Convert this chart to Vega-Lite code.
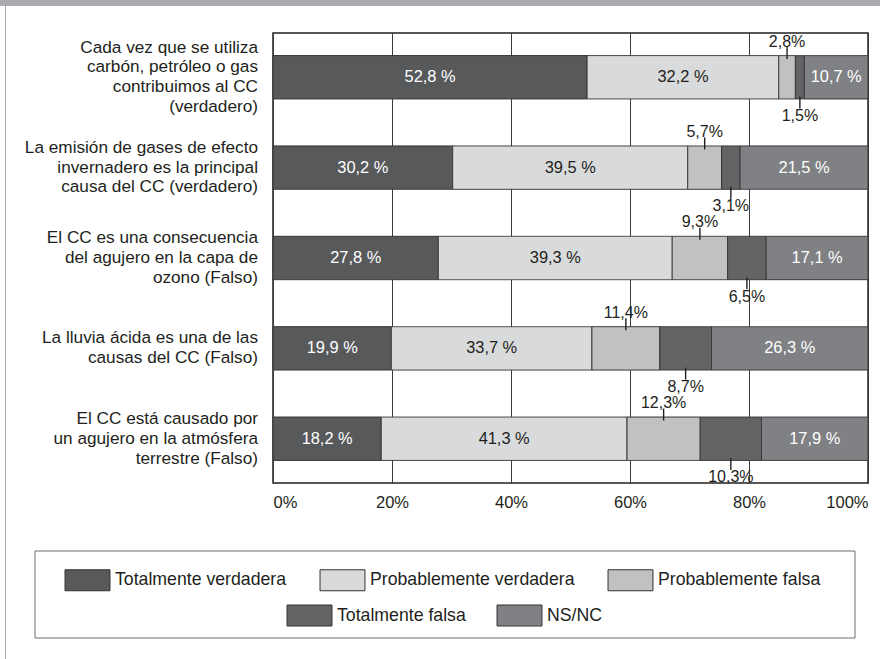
{
  "$schema": "https://vega.github.io/schema/vega-lite/v6.json",
  "width": 595,
  "height": 450,
  "autosize": {"type": "none"},
  "padding": {"left": 273, "top": 33, "right": 12, "bottom": 176},
  "background": "#ffffff",
  "config": {
    "view": {"stroke": "#231f20", "strokeWidth": 1.5},
    "font": "Liberation Sans"
  },
  "data": {
    "values": [
      {"q": "Cada vez que se  utiliza|carbón, petróleo o gas|contribuimos al CC|(verdadero)", "cat": "Totalmente verdadera", "v": 52.8, "k": 1},
      {"q": "Cada vez que se  utiliza|carbón, petróleo o gas|contribuimos al CC|(verdadero)", "cat": "Probablemente verdadera", "v": 32.2, "k": 2},
      {"q": "Cada vez que se  utiliza|carbón, petróleo o gas|contribuimos al CC|(verdadero)", "cat": "Probablemente falsa", "v": 2.8, "k": 3},
      {"q": "Cada vez que se  utiliza|carbón, petróleo o gas|contribuimos al CC|(verdadero)", "cat": "Totalmente falsa", "v": 1.5, "k": 4},
      {"q": "Cada vez que se  utiliza|carbón, petróleo o gas|contribuimos al CC|(verdadero)", "cat": "NS/NC", "v": 10.7, "k": 5},
      {"q": "La emisión de gases de efecto|invernadero es la principal|causa del CC (verdadero)", "cat": "Totalmente verdadera", "v": 30.2, "k": 1},
      {"q": "La emisión de gases de efecto|invernadero es la principal|causa del CC (verdadero)", "cat": "Probablemente verdadera", "v": 39.5, "k": 2},
      {"q": "La emisión de gases de efecto|invernadero es la principal|causa del CC (verdadero)", "cat": "Probablemente falsa", "v": 5.7, "k": 3},
      {"q": "La emisión de gases de efecto|invernadero es la principal|causa del CC (verdadero)", "cat": "Totalmente falsa", "v": 3.1, "k": 4},
      {"q": "La emisión de gases de efecto|invernadero es la principal|causa del CC (verdadero)", "cat": "NS/NC", "v": 21.5, "k": 5},
      {"q": "El CC es una consecuencia|del agujero en la capa de|ozono (Falso)", "cat": "Totalmente verdadera", "v": 27.8, "k": 1},
      {"q": "El CC es una consecuencia|del agujero en la capa de|ozono (Falso)", "cat": "Probablemente verdadera", "v": 39.3, "k": 2},
      {"q": "El CC es una consecuencia|del agujero en la capa de|ozono (Falso)", "cat": "Probablemente falsa", "v": 9.3, "k": 3},
      {"q": "El CC es una consecuencia|del agujero en la capa de|ozono (Falso)", "cat": "Totalmente falsa", "v": 6.5, "k": 4},
      {"q": "El CC es una consecuencia|del agujero en la capa de|ozono (Falso)", "cat": "NS/NC", "v": 17.1, "k": 5},
      {"q": "La lluvia ácida es una de las|causas del CC (Falso)", "cat": "Totalmente verdadera", "v": 19.9, "k": 1},
      {"q": "La lluvia ácida es una de las|causas del CC (Falso)", "cat": "Probablemente verdadera", "v": 33.7, "k": 2},
      {"q": "La lluvia ácida es una de las|causas del CC (Falso)", "cat": "Probablemente falsa", "v": 11.4, "k": 3},
      {"q": "La lluvia ácida es una de las|causas del CC (Falso)", "cat": "Totalmente falsa", "v": 8.7, "k": 4},
      {"q": "La lluvia ácida es una de las|causas del CC (Falso)", "cat": "NS/NC", "v": 26.3, "k": 5},
      {"q": "El CC está causado por|un agujero en la atmósfera|terrestre (Falso)", "cat": "Totalmente verdadera", "v": 18.2, "k": 1},
      {"q": "El CC está causado por|un agujero en la atmósfera|terrestre (Falso)", "cat": "Probablemente verdadera", "v": 41.3, "k": 2},
      {"q": "El CC está causado por|un agujero en la atmósfera|terrestre (Falso)", "cat": "Probablemente falsa", "v": 12.3, "k": 3},
      {"q": "El CC está causado por|un agujero en la atmósfera|terrestre (Falso)", "cat": "Totalmente falsa", "v": 10.3, "k": 4},
      {"q": "El CC está causado por|un agujero en la atmósfera|terrestre (Falso)", "cat": "NS/NC", "v": 17.9, "k": 5}
    ]
  },
  "encoding": {
    "y": {
      "field": "q",
      "type": "nominal",
      "sort": [
        "Cada vez que se  utiliza|carbón, petróleo o gas|contribuimos al CC|(verdadero)",
        "La emisión de gases de efecto|invernadero es la principal|causa del CC (verdadero)",
        "El CC es una consecuencia|del agujero en la capa de|ozono (Falso)",
        "La lluvia ácida es una de las|causas del CC (Falso)",
        "El CC está causado por|un agujero en la atmósfera|terrestre (Falso)"
      ],
      "scale": {"paddingInner": 0.52, "paddingOuter": 0.25},
      "axis": null
    }
  },
  "layer": [
    {
      "mark": {"type": "bar", "strokeWidth": 1},
      "encoding": {
        "x": {
          "field": "v",
          "type": "quantitative",
          "stack": "zero",
          "scale": {"domain": [0, 100], "nice": false},
          "axis": {
            "title": null,
            "values": [0, 20, 40, 60, 80, 100],
            "labelExpr": "datum.value + '%'",
            "grid": true,
            "gridColor": "#3c3c3c",
            "gridWidth": 1,
            "domain": false,
            "ticks": false,
            "labelPadding": 11,
            "labelFont": "Liberation Sans",
            "labelFontSize": 16.5,
            "labelColor": "#231f20",
            "labelFlush": true
          }
        },
        "fill": {
          "field": "cat",
          "type": "nominal",
          "scale": {
            "domain": ["Totalmente verdadera", "Probablemente verdadera", "Probablemente falsa", "Totalmente falsa", "NS/NC"],
            "range": ["#58595b", "#d9dadb", "#c0c1c3", "#636466", "#808184"]
          },
          "legend": {
            "orient": "none",
            "legendX": -208,
            "legendY": 536,
            "direction": "horizontal",
            "values": ["Totalmente verdadera", "Probablemente verdadera", "Probablemente falsa"],
            "title": null,
            "padding": 0,
            "symbolType": "M-2.14,-1H2.14V1H-2.14Z",
            "symbolSize": 441,
            "symbolOffset": 11.5,
            "labelOffset": 16.5,
            "columnPadding": 31,
            "symbolStrokeColor": "#333333",
            "symbolStrokeWidth": 1,
            "labelFont": "Liberation Sans",
            "labelFontSize": 17.7,
            "labelColor": "#231f20",
            "labelLimit": 400
          }
        },
        "stroke": {
          "field": "cat",
          "type": "nominal",
          "scale": {
            "domain": ["Totalmente falsa", "NS/NC", "Totalmente verdadera", "Probablemente verdadera", "Probablemente falsa"],
            "range": ["#333333", "#333333", "#333333", "#333333", "#333333"]
          },
          "legend": {
            "orient": "none",
            "legendX": 14,
            "legendY": 571.5,
            "direction": "horizontal",
            "values": ["Totalmente falsa"],
            "title": null,
            "padding": 0,
            "symbolType": "M-2.14,-1H2.14V1H-2.14Z",
            "symbolSize": 441,
            "symbolOffset": 11.5,
            "labelOffset": 16.5,
            "symbolStrokeWidth": 1,
            "symbolOpacity": 1,
            "symbolFillColor": "#636466",
            "labelFont": "Liberation Sans",
            "labelFontSize": 17.7,
            "labelColor": "#231f20",
            "labelLimit": 400
          }
        },
        "strokeWidth": {
          "field": "cat",
          "type": "nominal",
          "scale": {
            "type": "ordinal",
            "domain": ["NS/NC", "Totalmente falsa", "Totalmente verdadera", "Probablemente verdadera", "Probablemente falsa"],
            "range": [1, 1, 1, 1, 1]
          },
          "legend": {
            "orient": "none",
            "legendX": 224,
            "legendY": 571.5,
            "direction": "horizontal",
            "values": ["NS/NC"],
            "title": null,
            "padding": 0,
            "symbolType": "M-2.14,-1H2.14V1H-2.14Z",
            "symbolSize": 441,
            "symbolOffset": 11.5,
            "labelOffset": 16.5,
            "symbolOpacity": 1,
            "symbolFillColor": "#808184",
            "symbolStrokeColor": "#333333",
            "labelFont": "Liberation Sans",
            "labelFontSize": 17.7,
            "labelColor": "#231f20",
            "labelLimit": 400
          }
        },
        "opacity": {
          "datum": "marco",
          "type": "nominal",
          "scale": {"type": "ordinal", "range": [1]},
          "legend": {
            "orient": "none",
            "legendX": -238,
            "legendY": 151,
            "title": null,
            "padding": 0,
            "symbolType": "M-1,-0.1061H1V0.1061H-1Z",
            "symbolSize": 672400,
            "symbolOffset": -0.5,
            "symbolStrokeColor": "#6d6e71",
            "symbolStrokeWidth": 1,
            "symbolFillColor": "transparent",
            "labelExpr": "''"
          }
        },
        "strokeDash": {
          "datum": "decoración",
          "type": "nominal",
          "scale": {"range": [[1, 0]]},
          "legend": {
            "orient": "none",
            "legendX": -273,
            "legendY": -33,
            "title": null,
            "padding": 0,
            "symbolType": "M-1,-1H1V-0.98636H-1Z M-0.98864,-0.98636H-0.98636V1H-0.98864Z",
            "symbolSize": 774400,
            "symbolOffset": 0,
            "symbolStrokeWidth": 0,
            "symbolOpacity": 1,
            "symbolFillColor": "#a9abae",
            "symbolStrokeColor": "#a9abae",
            "labelExpr": "''"
          }
        },
        "order": {"field": "k", "type": "quantitative"}
      }
    },
    {
      "mark": {
        "type": "text",
        "align": "right",
        "baseline": "middle",
        "dx": -15,
        "lineBreak": "|",
        "lineHeight": 19.8,
        "font": "Liberation Sans",
        "fontSize": 17.2,
        "color": "#231f20",
        "dy": {"expr": "-(length(split(datum.q, '|')) - 1) * 9.9"},
        "opacity": {"expr": "datum.k === 1 ? 1 : 0"}
      },
      "encoding": {
        "x": {"datum": 0},
        "text": {"field": "q", "type": "nominal"}
      }
    },
    {
      "mark": {
        "type": "text",
        "font": "Liberation Sans",
        "fontSize": 16.4,
        "baseline": "middle",
        "align": "center",
        "text": {"expr": "(datum.cat === 'Probablemente falsa' || datum.cat === 'Totalmente falsa') ? '' : replace(format(datum.v, '.1f'), '.', ',') + ' %'"},
        "fill": {"expr": "datum.cat === 'Probablemente verdadera' ? '#231f20' : '#ffffff'"}
      },
      "encoding": {
        "x": {"field": "v", "type": "quantitative", "stack": "zero", "bandPosition": 0.5},
        "detail": {"field": "cat", "type": "nominal"},
        "order": {"field": "k", "type": "quantitative"}
      }
    },
    {
      "mark": {"type": "tick", "orient": "vertical", "size": 12, "thickness": 1.4, "color": "#231f20", "yOffset": -24.2, "opacity": {"expr": "datum.cat === 'Probablemente falsa' ? 1 : 0"}},
      "encoding": {
        "x": {"field": "v", "type": "quantitative", "stack": "zero", "bandPosition": 0.5},
        "detail": {"field": "cat", "type": "nominal"},
        "order": {"field": "k", "type": "quantitative"}
      }
    },
    {
      "mark": {"type": "tick", "orient": "vertical", "size": 12, "thickness": 1.4, "color": "#231f20", "yOffset": 25.2, "opacity": {"expr": "datum.cat === 'Totalmente falsa' ? 1 : 0"}},
      "encoding": {
        "x": {"field": "v", "type": "quantitative", "stack": "zero", "bandPosition": 0.5},
        "detail": {"field": "cat", "type": "nominal"},
        "order": {"field": "k", "type": "quantitative"}
      }
    },
    {
      "mark": {
        "type": "text",
        "font": "Liberation Sans",
        "fontSize": 16,
        "baseline": "middle",
        "align": "center",
        "color": "#231f20",
        "yOffset": -35.7,
        "text": {"expr": "datum.cat === 'Probablemente falsa' ? replace(format(datum.v, '.1f'), '.', ',') + '%' : ''"}
      },
      "encoding": {
        "x": {"field": "v", "type": "quantitative", "stack": "zero", "bandPosition": 0.5},
        "detail": {"field": "cat", "type": "nominal"},
        "order": {"field": "k", "type": "quantitative"}
      }
    },
    {
      "mark": {
        "type": "text",
        "font": "Liberation Sans",
        "fontSize": 16,
        "baseline": "middle",
        "align": "center",
        "color": "#231f20",
        "yOffset": 38.7,
        "text": {"expr": "datum.cat === 'Totalmente falsa' ? replace(format(datum.v, '.1f'), '.', ',') + '%' : ''"}
      },
      "encoding": {
        "x": {"field": "v", "type": "quantitative", "stack": "zero", "bandPosition": 0.5},
        "detail": {"field": "cat", "type": "nominal"},
        "order": {"field": "k", "type": "quantitative"}
      }
    }
  ]
}
